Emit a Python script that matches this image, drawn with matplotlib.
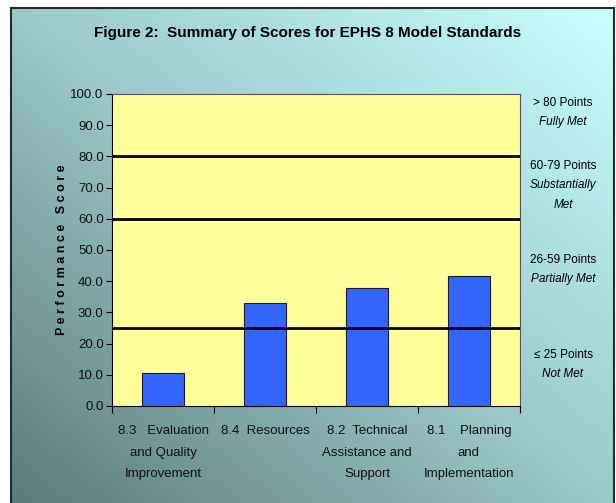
import matplotlib.pyplot as plt
import numpy as np
from matplotlib.colors import LinearSegmentedColormap

plt.rcParams['font.family'] = ['Liberation Sans', 'DejaVu Sans']

categories = ["8.3   Evaluation\nand Quality\nImprovement",
              "8.4  Resources",
              "8.2  Technical\nAssistance and\nSupport",
              "8.1    Planning\nand\nImplementation"]
scores = [10.5, 32.9, 37.9, 41.7]
thresholds = [25, 60, 80]
yticks = np.arange(0, 101, 10)
bands = [("> 80 Points", ["Fully Met"], 103),
         ("60-79 Points", ["Substantially", "Met"], 166),
         ("26-59 Points", ["Partially Met"], 260),
         ("\u2264 25 Points", ["Not Met"], 355)]

W, H = 616, 503
fig = plt.figure(figsize=(W / 100, H / 100), dpi=100)
fig.patch.set_facecolor("white")

# gradient background inside frame
bg = fig.add_axes([11 / W, 0, (614 - 11) / W, 1 - 8 / H])
gx, gy = np.meshgrid(np.linspace(0, 1, 300), np.linspace(0, 1, 300))
t = (gx + gy) / 2
cmap = LinearSegmentedColormap.from_list("bg", ["#5c7a7a", "#9cc9c9", "#c8ffff"])
bg.imshow(t, cmap=cmap, origin="lower", aspect="auto", extent=[0, 1, 0, 1])
bg.set_xlim(0, 1)
bg.set_ylim(0, 1)
bg.set_xticks([])
bg.set_yticks([])
for s in ["left", "top", "right"]:
    bg.spines[s].set_color("#2a2a2a")
    bg.spines[s].set_linewidth(1.5)
bg.spines["bottom"].set_visible(False)

ax = fig.add_axes([112 / W, 1 - 406 / H, (520 - 112) / W, (406 - 94) / H])
ax.set_facecolor("#ffff99")
x = np.arange(len(categories))
ax.bar(x, scores, width=0.41, color="#3366ff", edgecolor="#1a1a33", linewidth=0.8, zorder=3)
for th in thresholds:
    ax.axhline(th, color="black", lw=2, zorder=4)

ax.set_xlim(-0.5, len(categories) - 0.5)
ax.set_ylim(0, 100)
ax.set_yticks(yticks)
ax.set_yticklabels([f"{v:.1f}" for v in yticks], fontsize=9.5, color="#111111")
ax.set_xticks(np.arange(-0.5, len(categories), 1))
ax.set_xticklabels([])
ax.set_xticks(x, minor=True)
ax.set_xticklabels(categories, minor=True, fontsize=9.5, linespacing=2.05, color="#111111")
ax.tick_params(axis="x", which="minor", length=0, pad=14)
ax.tick_params(axis="x", which="major", length=5, direction="out")
ax.tick_params(axis="y", length=4, direction="out", pad=2)
ax.spines["left"].set_color("black")
ax.spines["bottom"].set_color("black")
ax.spines["top"].set_color("#555555")
ax.spines["right"].set_color("#555555")
ax.spines["top"].set_linewidth(0.8)
ax.spines["right"].set_linewidth(0.8)

ax.set_ylabel("P e r f o r m a n c e   S c o r e", fontsize=9, fontweight="bold", labelpad=2)

fig.text(308 / W, 1 - 33 / H, "Figure 2:  Summary of Scores for EPHS 8 Model Standards",
         ha="center", va="center", fontsize=11, fontweight="bold")

for head, subs, ypx in bands:
    fig.text(563 / W, 1 - ypx / H, head, ha="center", va="center", fontsize=8.5)
    for i, sub in enumerate(subs):
        fig.text(563 / W, 1 - (ypx + 19 + 20 * i) / H, sub, ha="center", va="center",
                 fontsize=8.5, style="italic")

fig.savefig("out.png", dpi=100)
